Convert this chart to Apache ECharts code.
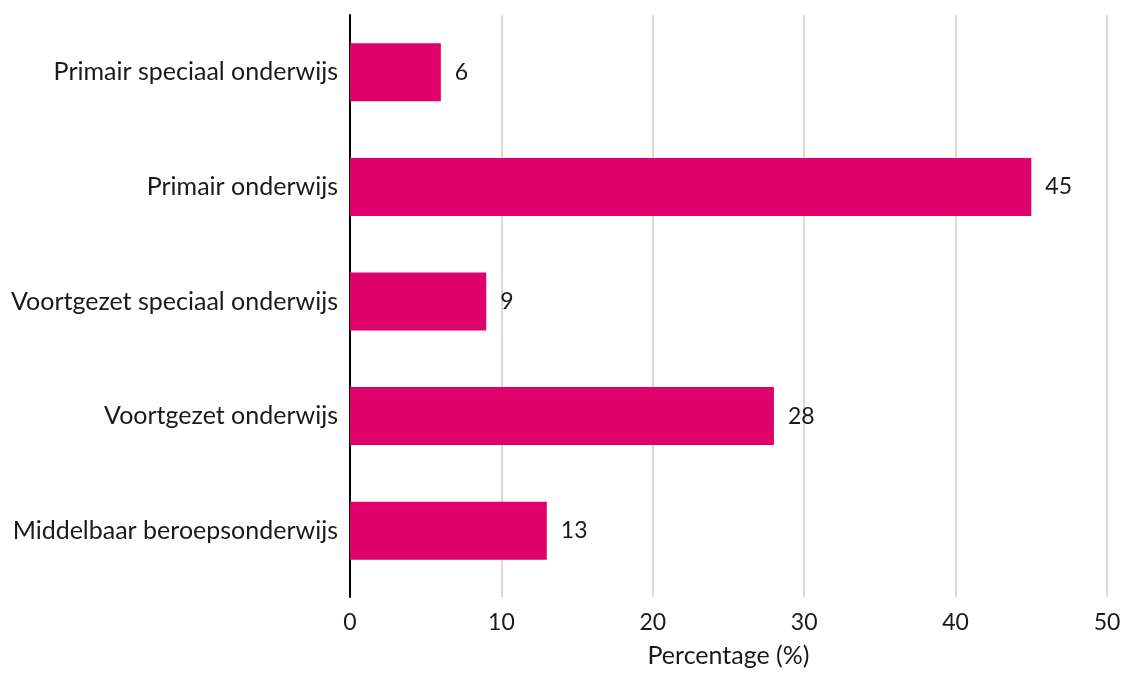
<!DOCTYPE html>
<html><head><meta charset="utf-8">
<script src="https://cdn.jsdelivr.net/npm/echarts@6/dist/echarts.min.js"></script>
<style>html,body{margin:0;padding:0;background:#fff}#c{width:1125px;height:673px}</style>
</head><body><div id="c"></div>
<script>
const categories = ["Primair speciaal onderwijs","Primair onderwijs","Voortgezet speciaal onderwijs","Voortgezet onderwijs","Middelbaar beroepsonderwijs"];
const values = [6, 45, 9, 28, 13];
const xTicks = [0, 10, 20, 30, 40, 50];
const font = "Lato, 'Noto Sans', sans-serif";
const txt = {fontFamily: font, fontSize: 25, color: '#1a1a1a'};
const chart = echarts.init(document.getElementById('c'));
chart.setOption({
  animation: false,
  grid: [
    {left: 350, right: 18, top: 15, bottom: 70},
    {left: 350, right: 18, top: 15, bottom: 85}
  ],
  xAxis: [{
    gridIndex: 0, type: 'value', min: xTicks[0], max: xTicks[xTicks.length-1], interval: 10,
    name: 'Percentage (%)', nameLocation: 'middle', nameGap: 46,
    nameTextStyle: {fontFamily: font, fontSize: 25, color: '#1a1a1a'},
    axisLine: {show: false}, axisTick: {show: false},
    axisLabel: {fontFamily: font, fontSize: 23, color: '#1a1a1a', margin: 14},
    splitLine: {show: true, lineStyle: {color: '#d9d9d9', width: 2}}
  }, {
    gridIndex: 1, type: 'value', min: xTicks[0], max: xTicks[xTicks.length-1], interval: 10,
    show: false
  }],
  yAxis: [{
    gridIndex: 0, type: 'category', data: [''],
    axisLine: {show: true, lineStyle: {color: '#000', width: 2}},
    axisTick: {show: false}, axisLabel: {show: false}
  }, {
    gridIndex: 1, type: 'category', data: categories, inverse: true,
    axisLine: {show: false}, axisTick: {show: false},
    axisLabel: {fontFamily: font, fontSize: 25, color: '#1a1a1a', margin: 12}
  }],
  series: [{
    type: 'bar', xAxisIndex: 1, yAxisIndex: 1, data: values, barWidth: 58,
    itemStyle: {color: '#e0006b'},
    label: {show: true, position: 'right', distance: 14, fontFamily: font, fontSize: 23, color: '#1a1a1a'}
  }]
});
</script></body></html>
